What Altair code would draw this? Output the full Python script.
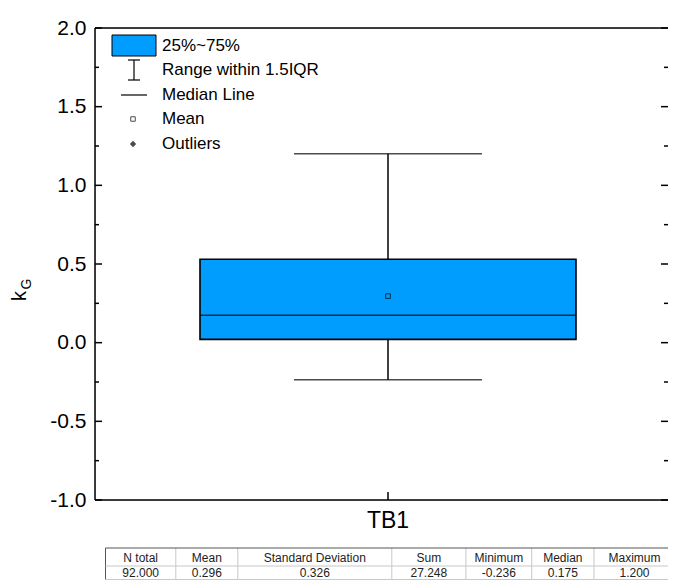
import altair as alt
import pandas as pd

# ---- data ----
category = ["TB1"]
q1 = [0.021]
q3 = [0.530]
median = [0.175]
mean = [0.296]
whisk_lo = [-0.236]
whisk_hi = [1.200]

table_headers = ["N total", "Mean", "Standard Deviation", "Sum", "Minimum", "Median", "Maximum"]
table_values = ["92.000", "0.296", "0.326", "27.248", "-0.236", "0.175", "1.200"]

y_major = [-1.0, -0.5, 0.0, 0.5, 1.0, 1.5, 2.0]
y_minor = [-0.75, -0.25, 0.25, 0.75, 1.25, 1.75]

legend_labels = ["25%~75%", "Range within 1.5IQR", "Median Line", "Mean", "Outliers"]

# ---- layout ----
W, H = 573, 472
FONT = "Liberation Sans"
BLUE = "#009dff"
col_bounds = [10.5, 80.8, 142.8, 296.8, 370.9, 436.7, 499.0, 580.0]
tbl_top, tbl_mid, tbl_bot = 520, 538, 551.5
legend_rows = [18, 42, 67, 91, 116]

stats = pd.DataFrame({
    "cat": category, "q1": q1, "q3": q3, "median": median, "mean": mean,
    "lo": whisk_lo, "hi": whisk_hi,
})

yscale = alt.Scale(domain=[-1, 2], nice=False, zero=False)
xscale = alt.Scale(paddingInner=0, paddingOuter=0.1, align=0.568)
xenc = alt.X("cat:N", scale=xscale,
             axis=alt.Axis(title=None, labelFontSize=23, labelFont=FONT, labelColor="black",
                           ticks=False, domain=False, labelAngle=0, labelPadding=9))

base = alt.Chart(stats)

box = base.mark_bar(size=376, color=BLUE, stroke="black", strokeWidth=1.6).encode(
    x=xenc,
    y=alt.Y("q1:Q", scale=yscale, axis=alt.Axis(
        title=None, values=y_major, ticks=False, domain=False, grid=False,
        labelFontSize=21, labelFont=FONT, labelColor="black", labelPadding=9,
        labelExpr="(datum.value < 0 ? '-' : '') + format(abs(datum.value), '.1f')")),
    y2="q3:Q",
)
wh_up = base.mark_rule(color="black", strokeWidth=1.5).encode(x="cat:N", y=alt.Y("q3:Q", scale=yscale), y2="hi:Q")
wh_dn = base.mark_rule(color="black", strokeWidth=1.5).encode(x="cat:N", y=alt.Y("lo:Q", scale=yscale), y2="q1:Q")
cap_hi = base.mark_tick(size=188, thickness=1.5, color="black").encode(x="cat:N", y=alt.Y("hi:Q", scale=yscale))
cap_lo = base.mark_tick(size=188, thickness=1.5, color="black").encode(x="cat:N", y=alt.Y("lo:Q", scale=yscale))
med = base.mark_tick(size=376, thickness=1.5, color="black").encode(x="cat:N", y=alt.Y("median:Q", scale=yscale))
mn = base.mark_point(shape="square", size=22, filled=False, color="black", strokeWidth=1).encode(
    x="cat:N", y=alt.Y("mean:Q", scale=yscale))

# frame
frame_top = base.mark_rule(color="black", strokeWidth=1.5).encode(x=alt.value(0), x2=alt.value(W), y=alt.value(0))
frame_bot = base.mark_rule(color="black", strokeWidth=1.5).encode(x=alt.value(0), x2=alt.value(W), y=alt.value(H))
frame_left = base.mark_rule(color="black", strokeWidth=1.5).encode(x=alt.value(0), y=alt.value(0), y2=alt.value(H))
x_tick = base.mark_rule(color="black", strokeWidth=1.5).encode(x="cat:N", y=alt.value(H - 8), y2=alt.value(H))

maj = pd.DataFrame({"v": y_major})
mnr = pd.DataFrame({"v": y_minor})
tk_l_maj = alt.Chart(maj).mark_rule(color="black", strokeWidth=1.5).encode(
    y=alt.Y("v:Q", scale=yscale), x=alt.value(0), x2=alt.value(7))
tk_r_maj = alt.Chart(maj).mark_rule(color="black", strokeWidth=1.5).encode(
    y=alt.Y("v:Q", scale=yscale), x=alt.value(W - 7), x2=alt.value(W))
tk_l_min = alt.Chart(mnr).mark_rule(color="black", strokeWidth=1.5).encode(
    y=alt.Y("v:Q", scale=yscale), x=alt.value(0), x2=alt.value(4))
tk_r_min = alt.Chart(mnr).mark_rule(color="black", strokeWidth=1.5).encode(
    y=alt.Y("v:Q", scale=yscale), x=alt.value(W - 4), x2=alt.value(W))

# y title k_G
t_k = base.mark_text(text="k", fontSize=20, font=FONT, angle=270, baseline="alphabetic", align="center").encode(
    x=alt.value(-69), y=alt.value(268))
t_g = base.mark_text(text="G", fontSize=14, font=FONT, angle=270, baseline="alphabetic", align="center").encode(
    x=alt.value(-64), y=alt.value(256))

# legend
lg_rect = base.mark_rect(color=BLUE, stroke="black", strokeWidth=1).encode(
    x=alt.value(17), x2=alt.value(61), y=alt.value(7), y2=alt.value(28))
lg_ib_v = base.mark_rule(color="black", strokeWidth=1.2).encode(x=alt.value(39), y=alt.value(32), y2=alt.value(52))
lg_ib_t = base.mark_rule(color="black", strokeWidth=1.2).encode(x=alt.value(33), x2=alt.value(45), y=alt.value(32))
lg_ib_b = base.mark_rule(color="black", strokeWidth=1.2).encode(x=alt.value(33), x2=alt.value(45), y=alt.value(52))
lg_med = base.mark_rule(color="black", strokeWidth=1.2).encode(x=alt.value(26), x2=alt.value(52), y=alt.value(67))
lg_mean = base.mark_point(shape="square", size=20, filled=False, color="black", strokeWidth=1).encode(
    x=alt.value(38), y=alt.value(91))
lg_out = base.mark_point(shape="diamond", size=40, filled=True, color="black").encode(
    x=alt.value(38), y=alt.value(116))
lg_texts = [
    base.mark_text(text=lab, align="left", baseline="middle", fontSize=17, font=FONT, color="black").encode(
        x=alt.value(67), y=alt.value(ry))
    for lab, ry in zip(legend_labels, legend_rows)
]

# statistics table
centers = [(col_bounds[i] + col_bounds[i + 1]) / 2 for i in range(len(table_headers))]
tdf = pd.DataFrame({"h": table_headers, "v": table_values, "cx": centers})
bdf = pd.DataFrame({"bx": col_bounds[:-1]})
t_head = alt.Chart(tdf).mark_text(fontSize=12, font=FONT, color="#222", baseline="middle").encode(
    x=alt.X("cx:Q", scale=None), y=alt.value((tbl_top + tbl_mid) / 2 + 1), text="h:N")
t_vals = alt.Chart(tdf).mark_text(fontSize=12, font=FONT, color="#222", baseline="middle").encode(
    x=alt.X("cx:Q", scale=None), y=alt.value((tbl_mid + tbl_bot) / 2), text="v:N")
t_vlines = alt.Chart(bdf).mark_rule(color="#c8c8c8", strokeWidth=1).encode(
    x=alt.X("bx:Q", scale=None), y=alt.value(tbl_top), y2=alt.value(tbl_bot))
t_left = base.mark_rule(color="#555", strokeWidth=1).encode(
    x=alt.value(col_bounds[0]), y=alt.value(tbl_top), y2=alt.value(tbl_bot))
t_h1 = base.mark_rule(color="#555", strokeWidth=1).encode(
    x=alt.value(col_bounds[0]), x2=alt.value(W), y=alt.value(tbl_top))
t_h2 = base.mark_rule(color="#c8c8c8", strokeWidth=1).encode(
    x=alt.value(col_bounds[0]), x2=alt.value(W), y=alt.value(tbl_mid))
t_h3 = base.mark_rule(color="#c8c8c8", strokeWidth=1).encode(
    x=alt.value(col_bounds[0]), x2=alt.value(W), y=alt.value(tbl_bot))

chart = alt.layer(
    box, wh_up, wh_dn, cap_hi, cap_lo, med, mn,
    frame_top, frame_bot, frame_left, x_tick,
    tk_l_maj, tk_r_maj, tk_l_min, tk_r_min,
    t_k, t_g,
    lg_rect, lg_ib_v, lg_ib_t, lg_ib_b, lg_med, lg_mean, lg_out, *lg_texts,
    t_vlines, t_left, t_h1, t_h2, t_h3, t_head, t_vals,
).properties(
    width=W, height=H,
    autosize=alt.AutoSizeParams(type="none"),
    padding={"left": 87, "top": 20, "right": 0, "bottom": 80},
).configure_view(stroke=None).configure(font=FONT)

chart.save("out.html", embed_options={"renderer": "svg", "actions": False})
